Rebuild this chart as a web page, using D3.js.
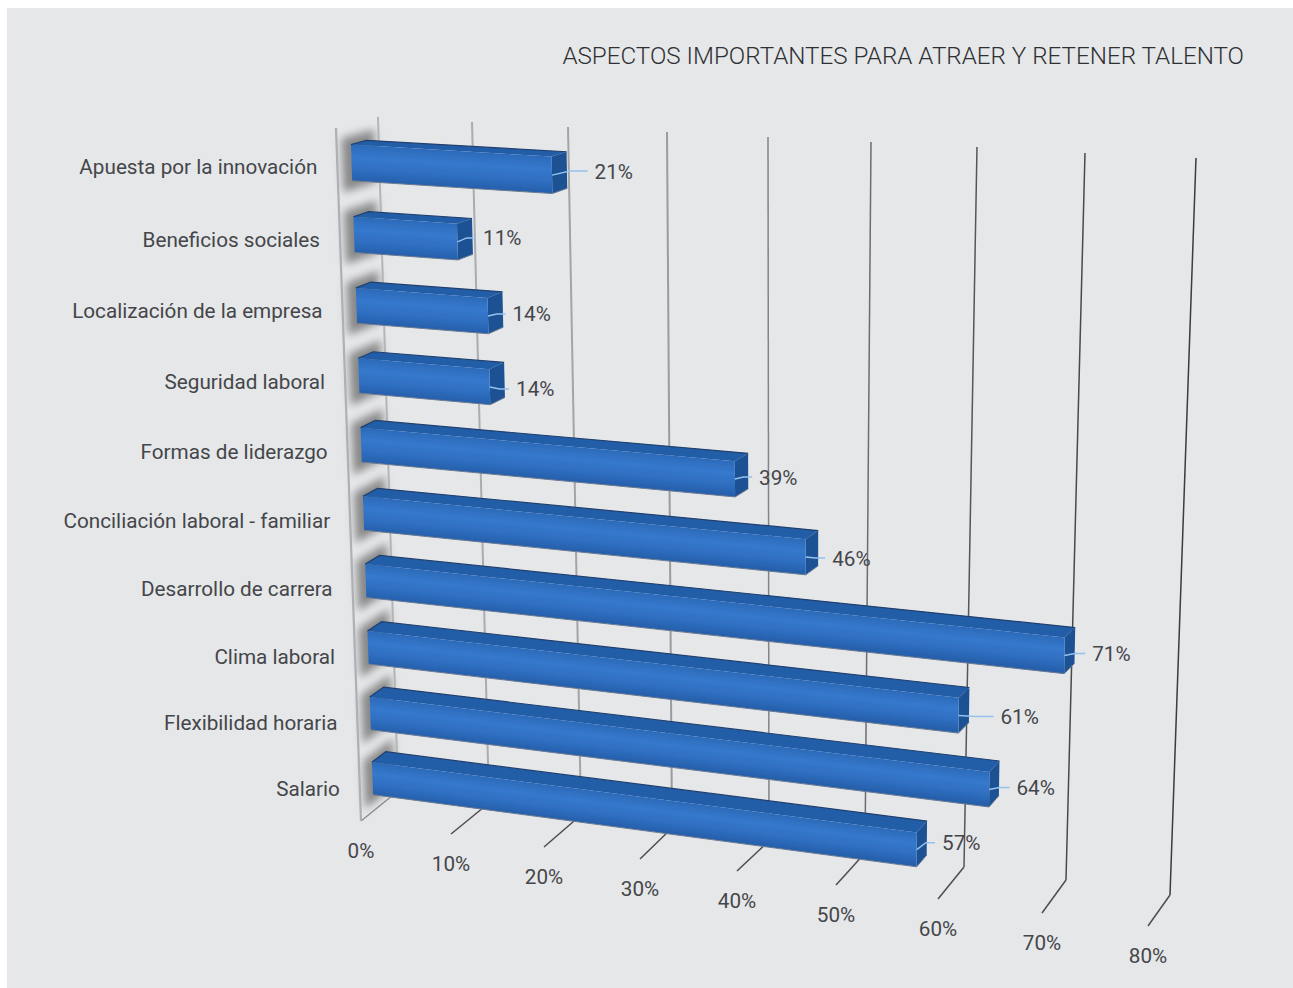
<!DOCTYPE html>
<html><head><meta charset="utf-8">
<script src="https://cdnjs.cloudflare.com/ajax/libs/d3/7.8.5/d3.min.js"></script>
<style>html,body{margin:0;padding:0;background:#fff}svg{display:block}text{font-family:Roboto,sans-serif}</style>
</head><body><svg id="c" width="1293" height="988"></svg>
<script>
const titleText = "ASPECTOS IMPORTANTES PARA ATRAER Y RETENER TALENTO";
const categories = ["Apuesta por la innovación","Beneficios sociales","Localización de la empresa","Seguridad laboral","Formas de liderazgo","Conciliación laboral - familiar","Desarrollo de carrera","Clima laboral","Flexibilidad horaria","Salario"];
const values = [21,11,14,14,39,46,71,61,64,57];
const axisTicks = [0,10,20,30,40,50,60,70,80];

const svg = d3.select("#c");
const defs = svg.append("defs");
defs.append("filter").attr("id","soft").attr("x","-10%").attr("y","-10%").attr("width","120%").attr("height","120%")
  .append("feGaussianBlur").attr("stdDeviation",0.45);
defs.append("filter").attr("id","shade").attr("x","-40%").attr("y","-40%").attr("width","180%").attr("height","180%")
  .append("feGaussianBlur").attr("stdDeviation",4.2);

svg.append("rect").attr("x",7).attr("y",8).attr("width",1286).attr("height",980).attr("fill","#e6e7e9");

// perspective frame of the plot, calibrated to the axis box
const sc = r => d3.scaleLinear().domain(axisTicks).range(r);
const topX = sc([378,472,568,667,768,871,977,1085,1196]);
const topY = sc([117,122,127,132,137,142,147,153,158]);
const baseX = sc([398,489,581,672,769,865,964,1066,1170]);
const baseY = sc([791,803,815,828,841,853,867,880,895]);
const frontX = sc([361,451,544,640,737,836,938,1042,1148]);
const frontY = sc([821,834,847,859,871,885,899,913,926]);
const depthTopX = d3.scaleLinear().domain([0,80]).range([-42,-36]);
const depthTopY = d3.scaleLinear().domain([0,80]).range([11,17]);
const warp = t => t/(t+0.94*(1-t));
function P(v,t,z){
  const s = warp(t);
  const bx = topX(v)+(baseX(v)-topX(v))*s, by = topY(v)+(baseY(v)-topY(v))*s;
  const dx = depthTopX(v)+((frontX(v)-baseX(v))-depthTopX(v))*s;
  const dy = depthTopY(v)+((frontY(v)-baseY(v))-depthTopY(v))*s;
  return [bx+dx*z, by+dy*z];
}
const rows = d3.scaleBand().domain(categories).range([0.003,1]).paddingInner(0.5).paddingOuter(0.25);
const poly = d3.line();
const zBack = 0.29, zFront = 0.66;
const bw = rows.bandwidth();

// shadows on the left wall
const soft = svg.append("g").attr("filter","url(#soft)");
const shadows = soft.append("g").attr("filter","url(#shade)");
shadows.selectAll("path").data(categories).join("path")
  .attr("d",c=>{const a=rows(c)-bw*.24,b=rows(c)+bw*1.24;
    return poly([P(0,a,.1),P(0,a,.88),P(0,b,.88),P(0,b,.1)])+"Z";})
  .attr("fill","#888888");

// grid
const gridColor = d3.scaleLinear().domain([0,30,60,80]).range(["#b4b5b8","#9a9b9e","#55565a","#3c3c3e"]);
soft.append("g").selectAll("line").data(axisTicks).join("line")
  .attr("x1",v=>P(v,0,0)[0]).attr("y1",v=>P(v,0,0)[1])
  .attr("x2",v=>P(v,1,0)[0]).attr("y2",v=>P(v,1,0)[1])
  .attr("stroke",v=>gridColor(v)).attr("stroke-width",v=>v<40?2:1.5);
soft.append("g").selectAll("line").data(axisTicks).join("line")
  .attr("x1",v=>P(v,1,0)[0]).attr("y1",v=>P(v,1,0)[1])
  .attr("x2",v=>P(v,1,1)[0]).attr("y2",v=>P(v,1,1)[1])
  .attr("stroke",(v)=>v===0?"#8c8d90":"#4c4d50").attr("stroke-width",1.5);
soft.append("line")
  .attr("x1",P(0,0,1)[0]).attr("y1",P(0,0,1)[1])
  .attr("x2",P(0,1,1)[0]).attr("y2",P(0,1,1)[1])
  .attr("stroke","#adb0b4").attr("stroke-width",2.2);

// bars
const bars = soft.append("g").selectAll("g").data(categories).join("g");
bars.each(function(c,i){
  const v = values[i], a = rows(c), b = a+bw, g = d3.select(this);
  const A = P(0,a,zFront), B = P(v,a,zFront), D = P(0,b,zFront);
  const ex = B[0]-A[0], ey = B[1]-A[1], L = Math.hypot(ex,ey), nx = -ey/L, ny = ex/L;
  const h = (D[0]-A[0])*nx+(D[1]-A[1])*ny;
  const gr = defs.append("linearGradient").attr("id","bf"+i).attr("gradientUnits","userSpaceOnUse")
    .attr("x1",A[0]).attr("y1",A[1]).attr("x2",A[0]+nx*h).attr("y2",A[1]+ny*h);
  [[0,"#2c6ab9"],[.35,"#3579cd"],[.7,"#2f6ec0"],[1,"#2660ac"]].forEach(s=>gr.append("stop").attr("offset",s[0]).attr("stop-color",s[1]));
  g.append("path").attr("d",poly([P(0,a,zBack),P(v,a,zBack),B,A])+"Z").attr("fill","#235da8");
  g.append("path").attr("d",poly([P(v,a,zBack),P(v,b,zBack),P(v,b,zFront),B])+"Z").attr("fill","#1f5193");
  g.append("path").attr("d",poly([A,B,P(v,b,zFront),D])+"Z").attr("fill",`url(#bf${i})`);
  g.append("path").attr("d",poly([P(0,a,zFront),P(0,a,zBack),P(v,a,zBack)])).attr("fill","none")
    .attr("stroke","#20406e").attr("stroke-width",1.2);
  g.append("path").attr("d",poly([D,P(v,b,zFront),P(v,b,zBack)])).attr("fill","none")
    .attr("stroke","#6c7b90").attr("stroke-width",1);
});

// data labels and leaders
const labelDx = [28,11,10,12,11,14,17,31,17,15];
const labelDy = [-4,-4,-2,2,-2,1,-2,1,-2,-7];
const lblPos = values.map((v,i)=>{
  const t = rows(categories[i])+bw/2, m = P(v,t,zFront);
  return {start:m, x:P(v,rows(categories[i]),zBack)[0]+labelDx[i], y:m[1]+labelDy[i]};
});
svg.append("g").selectAll("path").data(lblPos).join("path")
  .attr("d",d=>`M${d.start[0]},${d.start[1]}L${(d.start[0]+d.x-7)/2},${d.y}L${d.x-7},${d.y}`)
  .attr("fill","none").attr("stroke","#94c2ee").attr("stroke-width",1.5);
const fill="#444649", fs=20.7;
svg.append("g").selectAll("text").data(lblPos).join("text")
  .attr("x",d=>d.x).attr("y",d=>d.y).attr("dy","0.36em").attr("font-size",fs).attr("fill",fill)
  .text((d,i)=>values[i]+"%");

// category labels
svg.append("g").selectAll("text").data(categories).join("text")
  .attr("x",c=>P(0,rows(c)+bw/2,1)[0]-20).attr("y",c=>P(0,rows(c)+bw/2,1)[1])
  .attr("dy","0.36em").attr("text-anchor","end").attr("font-size",fs).attr("fill",fill).text(c=>c);

// axis labels
svg.append("g").selectAll("text").data(axisTicks).join("text")
  .attr("x",v=>P(v,1,1)[0]).attr("y",v=>P(v,1,1)[1]+30)
  .attr("dy","0.36em").attr("text-anchor","middle").attr("font-size",fs).attr("fill",fill).text(v=>v+"%");

svg.append("text").attr("x",1244).attr("y",64).attr("text-anchor","end").attr("font-size",24.2)
  .attr("font-weight",300).attr("fill","#2f3033").text(titleText);
</script></body></html>
